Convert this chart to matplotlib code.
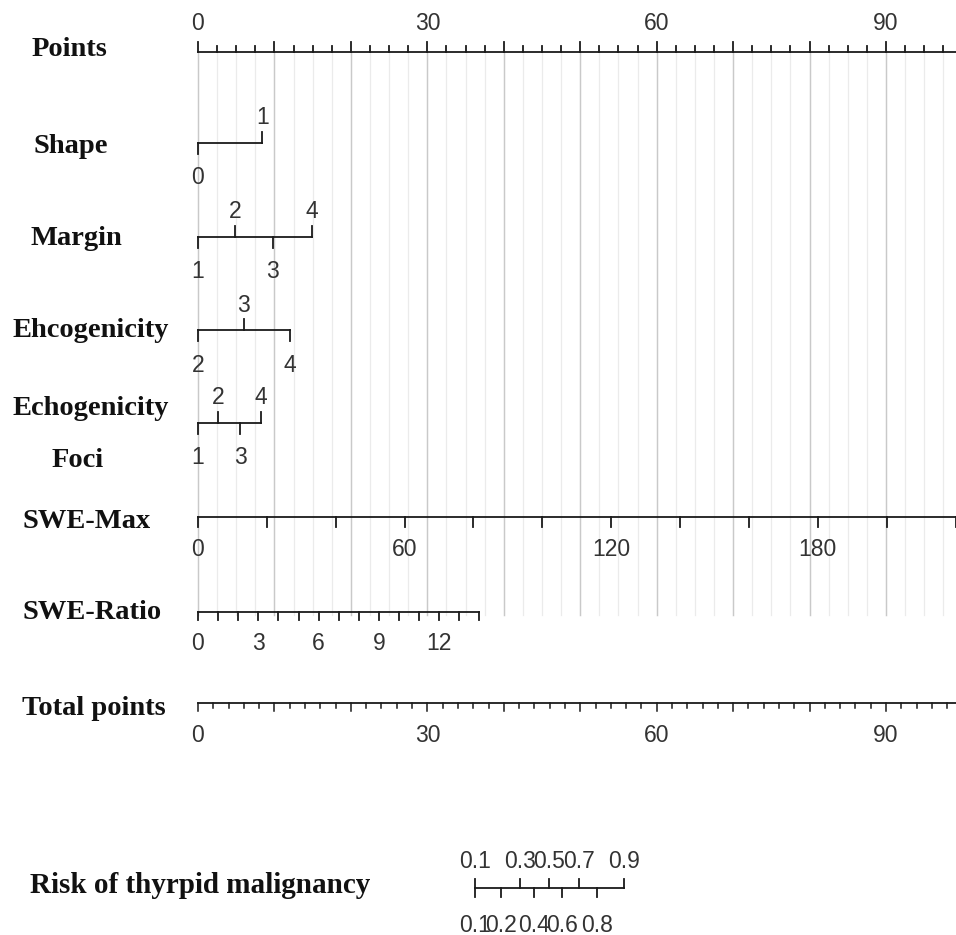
import matplotlib
matplotlib.use('Agg')
import matplotlib.pyplot as plt
import numpy as np

# ---------------- data ----------------
points_minor = np.arange(0, 100.1, 2.5)
points_major = np.arange(0, 100.1, 10)
points_labels = [0, 30, 60, 90]

shape_levels = ['0', '1']
shape_points = [0, 8.4]

margin_levels = ['1', '2', '3', '4']
margin_points = [0, 4.84, 9.8, 14.9]

ehco_levels = ['2', '3', '4']
ehco_points = [0, 6.0, 12.0]

foci_levels = ['1', '2', '3', '4']
foci_points = [0, 2.6, 5.5, 8.2]

swe_max_range = [0, 222]
swe_max_ticks = np.arange(0, 221, 20)
swe_max_labels = [0, 60, 120, 180]

swe_ratio_range = [0, 14]
swe_ratio_ticks = np.arange(0, 15, 1)
swe_ratio_labels = [0, 3, 6, 9, 12]
swe_ratio_pts_per_unit = 2.63

total_minor = np.arange(0, 100.1, 2)
total_major = np.arange(0, 100.1, 10)
total_labels = [0, 30, 60, 90]

risk_top = [0.1, 0.3, 0.5, 0.7, 0.9]
risk_top_pos = [36.2, 42.1, 45.9, 49.8, 55.7]
risk_bottom = [0.1, 0.2, 0.4, 0.6, 0.8]
risk_bottom_pos = [36.2, 39.6, 43.9, 47.6, 52.2]

# ---------------- layout ----------------
W, H = 956, 935
PX0, PXPP = 198, 7.645   # pixel of 0 points, pixels per point


def px2pt(px):
    return (px - PX0) / PXPP


fig = plt.figure(figsize=(W / 100, H / 100), dpi=100)
ax = fig.add_axes([0, 0, 1, 1])
ax.set_xlim(px2pt(0), px2pt(W))
ax.set_ylim(H, 0)
ax.axis('off')

LW = 1.3
BLK = '#1a1a1a'
NUMC = '#333333'
numfont = dict(family=['Liberation Sans Narrow', 'Liberation Sans'], size=16.5, color=NUMC)
labfont = dict(family='Liberation Serif', weight='bold', size=20.5, color='#111111')

y_points, y_shape, y_margin, y_ehco, y_foci = 52, 143, 237, 330, 423
y_swemax, y_sweratio, y_total, y_risk = 517, 612, 703, 888

# grid
for v in points_minor:
    ax.plot([v, v], [y_points, 615], color='#ebebeb', lw=0.9, zorder=0)
for v in points_major:
    ax.plot([v, v], [y_points, 615], color='#c9c9c9', lw=1.0, zorder=0)

# Points axis
ax.plot([0, 100], [y_points, y_points], color=BLK, lw=LW)
for v in points_minor:
    ln = 10 if v % 10 == 0 else 6
    ax.plot([v, v], [y_points, y_points - ln], color=BLK, lw=LW)
for v in points_labels:
    ax.text(v, y_points - 28, str(v), ha='center', va='center', **numfont)


def cat_axis(y, levels, pts):
    ax.plot([min(pts), max(pts)], [y, y], color=BLK, lw=LW)
    for i, (lv, p) in enumerate(zip(levels, pts)):
        if i % 2 == 0:
            ax.plot([p, p], [y, y + 11], color=BLK, lw=LW)
            ax.text(p, y + 35, lv, ha='center', va='center', **numfont)
        else:
            ax.plot([p, p], [y, y - 11], color=BLK, lw=LW)
            ax.text(p, y - 25, lv, ha='center', va='center', **numfont)


cat_axis(y_shape, shape_levels, shape_points)
cat_axis(y_margin, margin_levels, margin_points)
cat_axis(y_ehco, ehco_levels, ehco_points)
cat_axis(y_foci, foci_levels, foci_points)

# SWE-Max
k = 100 / swe_max_range[1]
ax.plot([swe_max_range[0] * k, swe_max_range[1] * k], [y_swemax, y_swemax], color=BLK, lw=LW)
for v in swe_max_ticks:
    ax.plot([v * k, v * k], [y_swemax, y_swemax + 10], color=BLK, lw=LW)
for v in swe_max_labels:
    ax.text(v * k, y_swemax + 33, str(v), ha='center', va='center', **numfont)

# SWE-Ratio
k2 = swe_ratio_pts_per_unit
ax.plot([swe_ratio_range[0] * k2, swe_ratio_range[1] * k2], [y_sweratio, y_sweratio], color=BLK, lw=LW)
for v in swe_ratio_ticks:
    ax.plot([v * k2, v * k2], [y_sweratio, y_sweratio + 8], color=BLK, lw=LW)
for v in swe_ratio_labels:
    ax.text(v * k2, y_sweratio + 31, str(v), ha='center', va='center', **numfont)

# Total points
ax.plot([0, 100], [y_total, y_total], color=BLK, lw=LW)
for v in total_minor:
    ln = 8 if v % 10 == 0 else 5
    ax.plot([v, v], [y_total, y_total + ln], color=BLK, lw=1.1)
for v in total_labels:
    ax.text(v, y_total + 32, str(v), ha='center', va='center', **numfont)

# Risk
ax.plot([min(risk_top_pos + risk_bottom_pos), max(risk_top_pos + risk_bottom_pos)],
        [y_risk, y_risk], color=BLK, lw=LW)
for v, p in zip(risk_top, risk_top_pos):
    ax.plot([p, p], [y_risk, y_risk - 9], color=BLK, lw=LW)
    ax.text(p, y_risk - 26, f'{v:g}', ha='center', va='center', **numfont)
for v, p in zip(risk_bottom, risk_bottom_pos):
    ax.plot([p, p], [y_risk, y_risk + 9], color=BLK, lw=LW)
    ax.text(p, y_risk + 37, f'{v:g}', ha='center', va='center', **numfont)

# Row labels
row_labels = [
    ('Points', 32, 56),
    ('Shape', 33, 153),
    ('Margin', 30, 245),
    ('Ehcogenicity', 12, 337),
    ('Echogenicity', 12, 415),
    ('Foci', 52, 467),
    ('SWE-Max', 22, 528),
    ('SWE-Ratio', 22, 619),
    ('Total points', 22, 715),
    ('Risk of thyrpid malignancy', 30, 893),
]
for txt, xp, yp in row_labels:
    size = 21 if txt.startswith('Risk') else labfont['size']
    f = dict(labfont, size=size)
    ax.text(px2pt(xp), yp, txt, ha='left', va='baseline', **f)

fig.savefig('out.png', dpi=100, facecolor='white')
